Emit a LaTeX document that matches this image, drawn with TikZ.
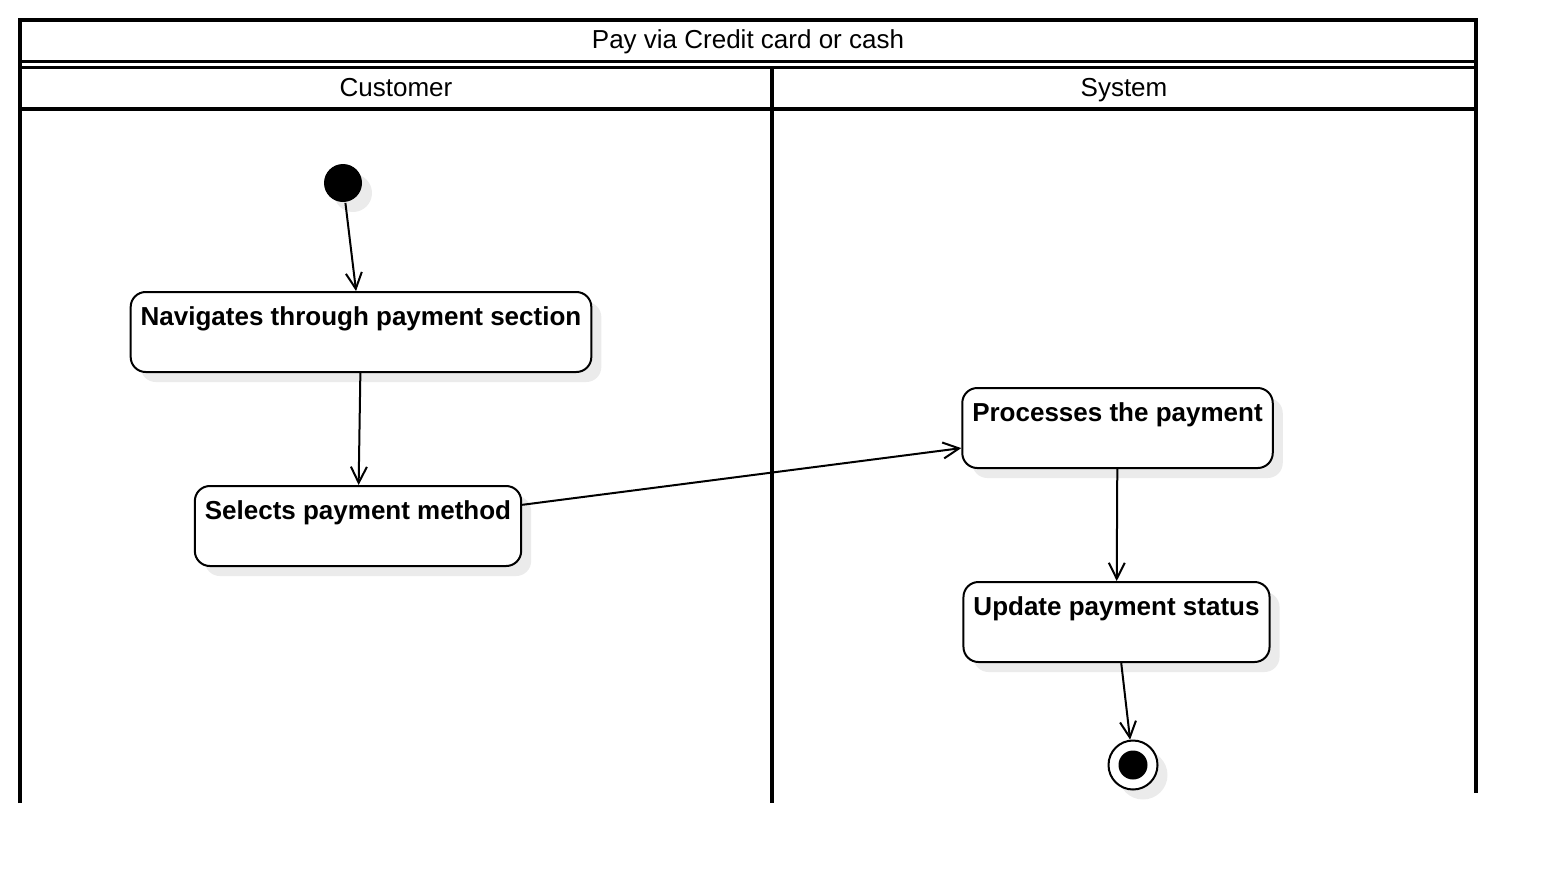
\documentclass[tikz,border=0pt]{standalone}
\usepackage{fontspec}
\setmainfont{Liberation Sans}
\usetikzlibrary{arrows.meta,shadows,positioning}

\begin{document}
\begin{tikzpicture}[
        x=0.5pt, y=-0.5pt,
        node distance=56pt and 56pt,
        every node/.style={font=\fontsize{13pt}{15.6pt}\selectfont},
        every path/.style={line width=1pt},
        lane/.style={line width=2pt, line join=miter},
        shade/.style={drop shadow={shadow xshift=5pt, shadow yshift=-5pt, fill=black!8, opacity=1}},
        activity/.style={draw, rounded corners=7.5pt, fill=white, inner xsep=5pt, inner ysep=0pt,
            text height=16.5pt, text depth=23.5pt, font=\fontsize{13pt}{15.6pt}\selectfont\bfseries, shade},
        startnode/.style={circle, fill=black, minimum size=19pt, inner sep=0pt, shade},
        endnode/.style={circle, draw, fill=white, minimum size=24.5pt, inner sep=0pt, shade},
        flow/.style={-{Straight Barb[length=8pt,width=8pt]}}
    ]
    \useasboundingbox (0,0) rectangle (1556,884);

    % Swimlanes
    \draw[lane] (20,803) -- (20,20) -- (1476,20) -- (1476,793);
    \draw[lane, line width=1.5pt] (20,61.5) -- (1476,61.5);
    \draw[lane, line width=1.5pt] (20,67.5) -- (1476,67.5);
    \draw[lane] (20,109) -- (1476,109);
    \draw[lane] (772,67.5) -- (772,803);

    \node (title) at (748,48.5) [anchor=base] {Pay via Credit card or cash};
    \node (customer) at (396,96) [anchor=base] {Customer};
    \node (system) at (1124,96) [anchor=base] {System};

    % Nodes
    \node (start) at (343,183) [startnode] {};
    \node (navigate) at (361,332) [activity] {Navigates through payment section};
    \node (select) [below=of navigate, activity, xshift=-1.5pt] {Selects payment method};
    \node (process) at (1117.5,428) [activity] {Processes the payment};
    \node (update) [below=of process, activity, xshift=-0.5pt] {Update payment status};
    \node (final) at (1133,765) [endnode] {};
    \node (finaldot) at (final) [circle, fill=black, minimum size=14.5pt, inner sep=0pt] {};

    % Edges
    \draw[flow] (start) -- (navigate);
    \draw[flow] (navigate) -- (select);
    \draw[flow] (select) -- (process);
    \draw[flow] (process) -- (update);
    \draw[flow] (update) -- (final);

\end{tikzpicture}
\end{document}
